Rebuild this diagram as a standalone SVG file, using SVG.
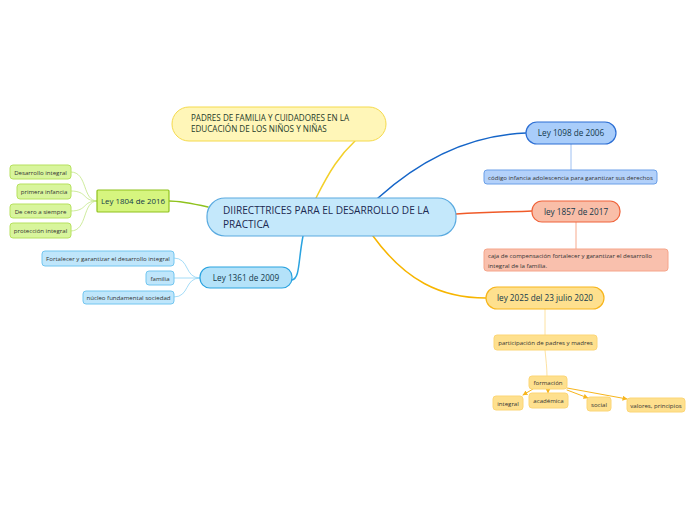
<svg xmlns="http://www.w3.org/2000/svg" width="696" height="520" viewBox="0 0 696 520">
<defs>
<style>
text{font-family:"Open Sans","Noto Sans","Liberation Sans",sans-serif;fill:#1d2b3a}
.t{font-size:8.2px;fill:#13394a}
.s{font-size:6.1px;fill:#333}
.g{fill:#d8f59c;stroke:#b6e15e;stroke-width:1}
.b{fill:#bfe6fb;stroke:#72c6f0;stroke-width:1}
.c{fill:none;stroke-linecap:round}
</style>
<marker id="ar" viewBox="0 0 10 10" refX="9" refY="5" markerWidth="5" markerHeight="5" orient="auto"><path d="M0,0L10,5L0,10z" fill="#f7b51c"/></marker>
</defs>
<rect width="696" height="520" fill="#fff"/>
<g id="connectors">
<path class="c" d="M316,198 C330,170 340,155 355,141" stroke="#f3d02a" stroke-width="1.5"/>
<path class="c" d="M208,207 C190,203 180,201 169,201" stroke="#8fc21d" stroke-width="1.5"/>
<path class="c" d="M71,172 C88,172 82,201 97,201" stroke="#c2e684" stroke-width="0.8"/>
<path class="c" d="M71,191 C88,191 82,201 97,201" stroke="#c2e684" stroke-width="0.8"/>
<path class="c" d="M71,211 C88,211 82,201 97,201" stroke="#c2e684" stroke-width="0.8"/>
<path class="c" d="M71,231 C88,231 82,201 97,201" stroke="#c2e684" stroke-width="0.8"/>
<path class="c" d="M303,236 C298,262 300,278 292,280" stroke="#2aa3e0" stroke-width="1.5"/>
<path class="c" d="M174,258 C190,258 184,278 200,278" stroke="#8ed3f5" stroke-width="0.8"/>
<path class="c" d="M174,278 L200,278" stroke="#8ed3f5" stroke-width="0.8"/>
<path class="c" d="M174,297 C190,297 184,278 200,278" stroke="#8ed3f5" stroke-width="0.8"/>
<path class="c" d="M378,198 C420,160 470,135 526,133" stroke="#1565c8" stroke-width="1.5"/>
<path class="c" d="M571,144 L571,170" stroke="#9ec0f2" stroke-width="1"/>
<path class="c" d="M456,214 C490,212 510,212 532,211" stroke="#f05a28" stroke-width="1.5"/>
<path class="c" d="M576,222 L576,249" stroke="#f7a98c" stroke-width="1"/>
<path class="c" d="M373,236 C405,280 440,298 486,298" stroke="#f7b500" stroke-width="1.5"/>
<path class="c" d="M545,309 L545,335" stroke="#fde2a2" stroke-width="1"/>
<path class="c" d="M545,350 C546,360 547,368 547,376" stroke="#fde2a2" stroke-width="1"/>
<path class="c" d="M533,389 L523,395" stroke="#f7b51c" stroke-width="1" marker-end="url(#ar)"/>
<path class="c" d="M548,389 L548,393" stroke="#f7b51c" stroke-width="1" marker-end="url(#ar)"/>
<path class="c" d="M567,390 L588,398" stroke="#f7b51c" stroke-width="1" marker-end="url(#ar)"/>
<path class="c" d="M567,388 L627,399" stroke="#f7b51c" stroke-width="1" marker-end="url(#ar)"/>
</g>
<g id="center">
<rect x="207" y="198" width="249" height="38" rx="18" fill="#c4e8fb" stroke="#5aaae0" stroke-width="1.2"/>
<text x="223" y="214" style="font-size:10.1px;fill:#1c2a52">DIIRECTTRICES PARA EL DESARROLLO DE LA</text>
<text x="223" y="228" style="font-size:10.1px;fill:#1c2a52">PRACTICA</text>
</g>
<g id="padres">
<rect x="172" y="107" width="214" height="34" rx="17" fill="#fff6b8" stroke="#f5da4c" stroke-width="1"/>
<text x="191" y="121" style="font-size:8.1px;fill:#1c3a2a">PADRES DE FAMILIA Y CUIDADORES EN LA</text>
<text x="191" y="132" style="font-size:8.1px;fill:#1c3a2a">EDUCACIÓN DE LOS NIÑOS Y NIÑAS</text>
</g>
<g id="ley1804">
<rect x="97" y="190" width="72" height="22" rx="1" fill="#d6f57f" stroke="#8fc21d" stroke-width="1.2"/>
<text class="t" x="133" y="204" text-anchor="middle" style="font-size:7.9px">Ley 1804 de 2016</text>
</g>
<g id="l1804a"><rect class="g" x="10" y="165" width="61" height="14" rx="3"/><text class="s" x="40.5" y="174.5" text-anchor="middle">Desarrollo integral</text></g>
<g id="l1804b"><rect class="g" x="17" y="184" width="54" height="15" rx="3"/><text class="s" x="44" y="194" text-anchor="middle">primera infancia</text></g>
<g id="l1804c"><rect class="g" x="10" y="204" width="61" height="14" rx="3"/><text class="s" x="40.5" y="213.5" text-anchor="middle">De cero a siempre</text></g>
<g id="l1804d"><rect class="g" x="10" y="223" width="61" height="15" rx="3"/><text class="s" x="40.5" y="233" text-anchor="middle">protección integral</text></g>
<g id="ley1361">
<rect x="200" y="267" width="92" height="21" rx="10" fill="#b4e2f9" stroke="#2aa3e0" stroke-width="1.2"/>
<text class="t" x="246" y="280.5" text-anchor="middle">Ley 1361 de 2009</text>
</g>
<g id="l1361a"><rect class="b" x="42" y="251" width="132" height="15" rx="3"/><text class="s" x="108" y="261" text-anchor="middle">Fortalecer y garantizar el desarrollo integral</text></g>
<g id="l1361b"><rect class="b" x="146" y="271" width="28" height="14" rx="3"/><text class="s" x="160" y="280.5" text-anchor="middle">familia</text></g>
<g id="l1361c"><rect class="b" x="83" y="291" width="91" height="13" rx="3"/><text class="s" x="128.5" y="300" text-anchor="middle">núcleo fundamental sociedad</text></g>
<g id="ley1098">
<rect x="526" y="122" width="90" height="22" rx="11" fill="#a9cdfa" stroke="#2d6fd4" stroke-width="1.2"/>
<text class="t" x="571" y="136" text-anchor="middle">Ley 1098 de 2006</text>
</g>
<g id="l1098a"><rect x="484" y="170" width="173" height="14" rx="3" fill="#b3d1fa" stroke="#6a9fe8" stroke-width="1"/><text class="s" x="570.5" y="179.5" text-anchor="middle">código infancia adolescencia para garantizar sus derechos</text></g>
<g id="ley1857">
<rect x="532" y="201" width="88" height="21" rx="10" fill="#f9bea8" stroke="#f0633a" stroke-width="1.2"/>
<text class="t" x="576" y="214.5" text-anchor="middle">ley 1857 de 2017</text>
</g>
<g id="l1857a"><rect x="484" y="249" width="184" height="22" rx="3" fill="#f9c0ad" stroke="#f6a58a" stroke-width="1"/>
<text class="s" x="488" y="258">caja de compensación fortalecer y garantizar el desarrollo</text>
<text class="s" x="488" y="268">integral de la familia.</text></g>
<g id="ley2025">
<rect x="486" y="287" width="118" height="22" rx="11" fill="#fee08e" stroke="#f7b51c" stroke-width="1.2"/>
<text class="t" x="545" y="301" text-anchor="middle">ley 2025 del 23 julio 2020</text>
</g>
<g id="part"><rect x="494" y="335" width="103" height="15" rx="3" fill="#fee08e" stroke="#fcd676" stroke-width="1"/><text class="s" x="545.5" y="345" text-anchor="middle">participación de padres y madres</text></g>
<g id="formacion"><rect x="529" y="376" width="38" height="13" rx="3" fill="#fee08e" stroke="#fcd676" stroke-width="1"/><text class="s" x="548" y="385" text-anchor="middle">formación</text></g>
<g id="integral"><rect x="493" y="396" width="30" height="14" rx="3" fill="#fee08e" stroke="#fcd676" stroke-width="1"/><text class="s" x="508" y="405.5" text-anchor="middle">integral</text></g>
<g id="academica"><rect x="529" y="393" width="39" height="15" rx="3" fill="#fee08e" stroke="#fcd676" stroke-width="1"/><text class="s" x="548.5" y="403" text-anchor="middle">académica</text></g>
<g id="social"><rect x="587" y="397" width="24" height="14" rx="3" fill="#fee08e" stroke="#fcd676" stroke-width="1"/><text class="s" x="599" y="406.5" text-anchor="middle">social</text></g>
<g id="valores"><rect x="627" y="398" width="58" height="14" rx="3" fill="#fee08e" stroke="#fcd676" stroke-width="1"/><text class="s" x="656" y="407.5" text-anchor="middle">valores, principios</text></g>
</svg>
